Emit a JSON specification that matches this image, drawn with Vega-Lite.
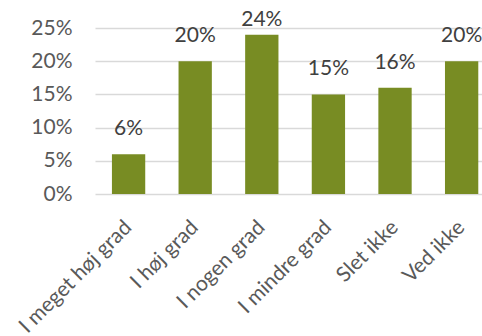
{
  "$schema": "https://vega.github.io/schema/vega-lite/v6.json",
  "width": 387,
  "height": 166,
  "autosize": {"type": "none"},
  "padding": {"left": 95, "top": 28, "right": 0, "bottom": 142},
  "background": "white",
  "config": {"view": {"stroke": null}, "font": "Lato"},
  "data": {"values": [
    {"cat": "I meget høj grad", "v": 0.06},
    {"cat": "I høj grad", "v": 0.20},
    {"cat": "I nogen grad", "v": 0.24},
    {"cat": "I mindre grad", "v": 0.15},
    {"cat": "Slet ikke", "v": 0.16},
    {"cat": "Ved ikke", "v": 0.20}
  ]},
  "encoding": {
    "x": {"field": "cat", "type": "nominal", "sort": null,
      "scale": {"paddingInner": 0.5, "paddingOuter": 0.155, "align": 0.82},
      "axis": {"title": null, "labelAngle": -45, "labelAlign": "right", "labelBaseline": "middle", "labelFontSize": 21, "labelColor": "#595959", "ticks": false, "domain": false, "labelPadding": 30, "labelOffset": 0, "labelFont": "Lato", "labelLimit": 300}},
    "y": {"field": "v", "type": "quantitative",
      "scale": {"domain": [0, 0.25]},
      "axis": {"title": null, "format": ".0%", "values": [0, 0.05, 0.1, 0.15, 0.2, 0.25], "domain": false, "ticks": false, "labelFontSize": 21, "labelColor": "#595959", "labelPadding": 23, "gridColor": "#d9d9d9", "gridWidth": 1.5, "labelFont": "Lato"}}
  },
  "layer": [
    {"mark": {"type": "bar", "color": "#788C23"}},
    {"transform": [{"filter": "datum.v < 0.22"}],
     "mark": {"type": "text", "baseline": "alphabetic", "dy": -19, "fontSize": 21, "color": "#404040", "font": "Lato"},
     "encoding": {"text": {"field": "v", "type": "quantitative", "format": ".0%"}}},
    {"transform": [{"filter": "datum.v >= 0.22"}],
     "mark": {"type": "text", "baseline": "alphabetic", "dy": -9, "fontSize": 21, "color": "#404040", "font": "Lato"},
     "encoding": {"text": {"field": "v", "type": "quantitative", "format": ".0%"}}}
  ]
}
